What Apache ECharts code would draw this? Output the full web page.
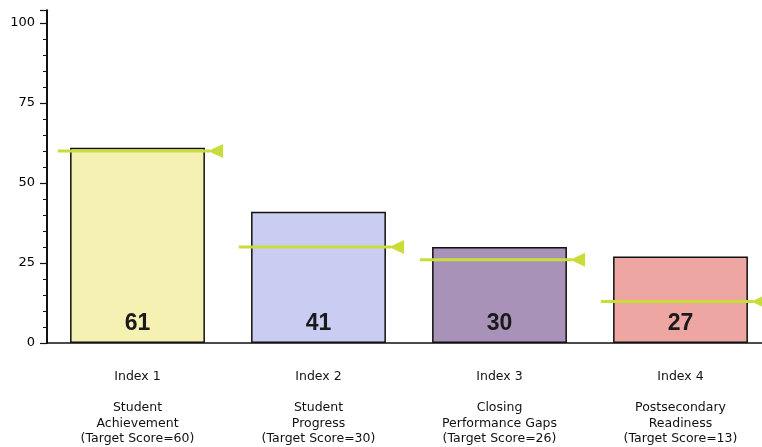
<!DOCTYPE html>
<html><head><meta charset="utf-8">
<script src="https://cdn.jsdelivr.net/npm/echarts@6/dist/echarts.min.js"></script>
<style>html,body{margin:0;padding:0;background:#fff;overflow:hidden}#c{width:771px;height:447px}</style>
</head><body><div id="c"></div>
<script>
const categories = ['Index 1', 'Index 2', 'Index 3', 'Index 4'];
const subtitles = ['Student\nAchievement', 'Student\nProgress', 'Closing\nPerformance Gaps', 'Postsecondary\nReadiness'];
const scores = [61, 41, 30, 27];
const targets = [60, 30, 26, 13];
const barColors = ['#f4f1b2', '#c9cdf1', '#a892b8', '#eea6a2'];
const yTicks = [0, 25, 50, 75, 100];

const chart = echarts.init(document.getElementById('c'), null, {renderer: 'canvas'});
const FONT = 'DejaVu Sans';
chart.setOption({
  animation: false,
  backgroundColor: '#fff',
  grid: {left: 47, top: 10.2, right: 0, bottom: 104},
  xAxis: {
    type: 'category',
    data: categories,
    axisLine: {lineStyle: {color: '#111', width: 1.5}},
    axisTick: {show: false},
    axisLabel: {
      margin: 26,
      fontFamily: FONT, fontSize: 12.5, color: '#111', lineHeight: 15.5,
      formatter: (v, i) => v + '\n\n' + subtitles[i] + '\n(Target Score=' + targets[i] + ')'
    }
  },
  yAxis: {
    type: 'value', min: 0, max: 104, interval: 25,
    splitLine: {show: false},
    axisLine: {show: true, lineStyle: {color: '#111', width: 2}},
    axisTick: {show: true, length: 7, lineStyle: {color: '#111', width: 1.2}},
    minorTick: {show: true, splitNumber: 5, length: 4, lineStyle: {color: '#111', width: 1}},
    axisLabel: {
      margin: 12, fontFamily: FONT, fontSize: 13, color: '#000',
      showMaxLabel: false,
      formatter: v => yTicks.includes(v) ? String(v) : ''
    }
  },
  series: [
    {
      type: 'bar',
      barWidth: '74.5%',
      data: scores.map((v, i) => ({value: v, itemStyle: {color: barColors[i]}})),
      itemStyle: {borderColor: '#111', borderWidth: 1.5},
      label: {
        show: true, position: 'insideBottom', distance: 8,
        fontFamily: 'Liberation Sans', fontWeight: 'bold', fontSize: 23, color: '#1a1a1a'
      }
    },
    {
      type: 'custom',
      data: targets.map((t, i) => [i, t]),
      renderItem: function (params, api) {
        const p = api.coord([api.value(0), api.value(1)]);
        const bw = api.size([1, 0])[0];
        const x0 = p[0] - 0.44 * bw, x1 = p[0] + 0.39 * bw, x2 = x1 + 15;
        const y = p[1];
        return {
          type: 'group',
          children: [
            {type: 'line', shape: {x1: x0, y1: y, x2: x1 + 2, y2: y},
             style: {stroke: '#c8dc3a', lineWidth: 3}},
            {type: 'polygon', shape: {points: [[x1, y], [x2, y - 7], [x2, y + 7]]},
             style: {fill: '#c8dc3a'}}
          ]
        };
      },
      z: 10
    }
  ]
});
</script></body></html>
